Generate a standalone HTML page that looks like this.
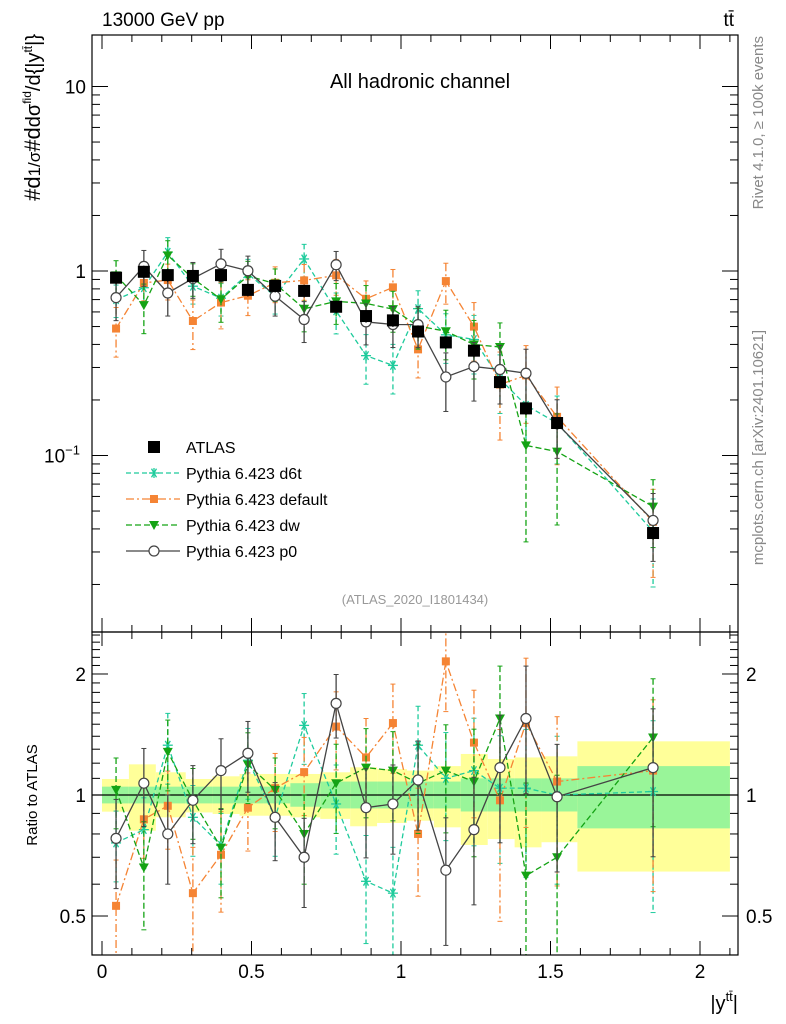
<!DOCTYPE html>
<html><head><meta charset="utf-8"><style>
html,body{margin:0;padding:0;background:#fff;overflow:hidden;width:786px;height:1024px}
svg{display:block}
svg text{font-family:"Liberation Sans",sans-serif}
</style></head><body>
<svg id="c" width="786" height="1024" viewBox="0 0 786 1024" xmlns="http://www.w3.org/2000/svg"></svg>
<script>
const xs=[0.047,0.14,0.22,0.304,0.398,0.488,0.579,0.676,0.783,0.883,0.973,1.057,1.15,1.244,1.331,1.418,1.522,1.843];
const edges=[0,0.09,0.18,0.28,0.37,0.46,0.54,0.63,0.73,0.83,0.92,1.02,1.11,1.2,1.29,1.38,1.47,1.59,2.1];
const atlas=[0.92,0.99,0.95,0.94,0.95,0.79,0.83,0.78,0.64,0.57,0.54,0.47,0.41,0.37,0.25,0.18,0.15,0.038];
const rD6t=[0.76,0.82,1.33,0.88,0.75,1.22,0.88,1.49,0.95,0.61,0.57,1.33,1.10,1.15,1.04,1.04,1.0,1.02];
const rDef=[0.53,0.87,0.94,0.57,0.71,0.93,1.04,1.14,1.48,1.24,1.51,0.80,2.15,1.35,0.97,1.51,1.08,1.15];
const rDw=[1.03,0.66,1.28,0.97,0.74,1.19,1.03,0.80,1.07,1.17,1.15,1.07,1.15,1.08,1.55,0.63,0.70,1.39];
const rP0=[0.78,1.07,0.80,0.97,1.15,1.27,0.88,0.70,1.69,0.93,0.95,1.09,0.65,0.82,1.17,1.55,0.99,1.17];
const eD6t=[0.2,0.2,0.2,0.2,0.2,0.2,0.2,0.2,0.25,0.3,0.3,0.25,0.3,0.35,0.35,0.4,0.4,0.5];
const eDef=[0.3,0.2,0.22,0.3,0.28,0.22,0.22,0.22,0.22,0.25,0.25,0.3,0.25,0.35,0.5,0.45,0.45,0.5];
const eDw=[0.2,0.3,0.2,0.2,0.25,0.2,0.2,0.25,0.25,0.25,0.25,0.25,0.3,0.35,0.35,0.7,0.6,0.4];
const eP0=[0.25,0.22,0.25,0.22,0.2,0.2,0.22,0.25,0.18,0.25,0.25,0.25,0.35,0.35,0.35,0.35,0.35,0.4];
const yelHi=[1.096,1.192,1.139,1.096,1.113,1.128,1.128,1.128,1.139,1.172,1.16,1.15,1.18,1.265,1.229,1.24,1.248,1.36];
const yelLo=[0.909,0.815,0.88,0.905,0.897,0.888,0.888,0.88,0.872,0.836,0.852,0.863,0.831,0.751,0.777,0.741,0.763,0.645];
const grnHi=[1.049,1.049,1.049,1.049,1.049,1.049,1.049,1.07,1.08,1.08,1.08,1.08,1.08,1.1,1.1,1.1,1.1,1.18];
const grnLo=[0.953,0.953,0.953,0.953,0.953,0.953,0.953,0.935,0.926,0.926,0.926,0.926,0.926,0.91,0.91,0.91,0.91,0.826];
const xTicks=[0,0.5,1,1.5,2];
const NS="http://www.w3.org/2000/svg";const svg=document.getElementById('c');
function el(t,a,p){const e=document.createElementNS(NS,t);for(const k in a)e.setAttribute(k,a[k]);(p||svg).appendChild(e);return e;}
const L=92,R=738,T=35,M=632,B=955;
const X=v=>102+v*299;
const Y=v=>271-Math.log10(v)*184.5;
const YR=v=>795-Math.log10(v)*402;
const gb=el('g',{});
for(let i=0;i<xs.length;i++){const x0=X(edges[i]),x1=X(edges[i+1]);
 el('rect',{x:x0,y:YR(yelHi[i]),width:x1-x0,height:YR(yelLo[i])-YR(yelHi[i]),fill:'#ffff99'},gb);
 el('rect',{x:x0,y:YR(grnHi[i]),width:x1-x0,height:YR(grnLo[i])-YR(grnHi[i]),fill:'#99f599'},gb);}
el('line',{x1:L,x2:R,y1:YR(1),y2:YR(1),stroke:'#000','stroke-width':1.3});
const defs=el('defs',{});
const c1=el('clipPath',{id:'cm'},defs);el('rect',{x:L,y:T,width:R-L,height:M-T},c1);
const c2=el('clipPath',{id:'cr'},defs);el('rect',{x:L,y:M,width:R-L,height:B-M},c2);
function marker(g,type,x,y,col){
 if(type==='sq')el('rect',{x:x-4,y:y-4,width:8,height:8,fill:col},g);
 else if(type==='tri')el('path',{d:`M${x-5},${y-4}L${x+5},${y-4}L${x},${y+5}Z`,fill:col},g);
 else if(type==='circ')el('circle',{cx:x,cy:y,r:5,fill:'#fff',stroke:col,'stroke-width':1.2},g);
 else if(type==='ast'){for(const a of [0,60,120]){const r=a*Math.PI/180;el('line',{x1:x-5*Math.cos(r),y1:y-5*Math.sin(r),x2:x+5*Math.cos(r),y2:y+5*Math.sin(r),stroke:col,'stroke-width':1.3},g);}el('line',{x1:x,x2:x,y1:y-5,y2:y+5,stroke:col,'stroke-width':1.3},g);}
}
const series=[
 {n:'pythia-d6t',r:rD6t,e:eD6t,c:'#1ecb9c',d:'5,3',m:'ast'},
 {n:'pythia-default',r:rDef,e:eDef,c:'#f58434',d:'8,3,2,3',m:'sq'},
 {n:'pythia-dw',r:rDw,e:eDw,c:'#14a314',d:'6,3',m:'tri'},
 {n:'pythia-p0',r:rP0,e:eP0,c:'#444',d:'',m:'circ'}];
for(const s of series){
 for(const panel of ['main','ratio']){
  const g=el('g',{'clip-path':panel==='main'?'url(#cm)':'url(#cr)'});
  
  const fy=i=>panel==='main'?Y(s.r[i]*atlas[i]):YR(s.r[i]);
  const fe=(i,f)=>panel==='main'?Y(s.r[i]*atlas[i]*f):YR(s.r[i]*f);
  let pts=xs.map((x,i)=>X(x)+','+fy(i)).join(' ');
  const pl=el('polyline',{points:pts,fill:'none',stroke:s.c,'stroke-width':1.3},g);if(s.d)pl.setAttribute('stroke-dasharray',s.d);
  xs.forEach((x,i)=>{const up=fe(i,1+s.e[i]),lo=fe(i,Math.max(0.05,1-s.e[i]));
   const l=el('line',{x1:X(x),x2:X(x),y1:up,y2:lo,stroke:s.c,'stroke-width':1.3},g);if(s.d)l.setAttribute('stroke-dasharray',s.d);
   el('line',{x1:X(x)-2.5,x2:X(x)+2.5,y1:up,y2:up,stroke:s.c},g);el('line',{x1:X(x)-2.5,x2:X(x)+2.5,y1:lo,y2:lo,stroke:s.c},g);
   marker(g,s.m,X(x),fy(i),s.c);});
 }
}
const ga=el('g',{});
xs.forEach((x,i)=>{el('line',{x1:X(x),x2:X(x),y1:Y(atlas[i]*1.08),y2:Y(atlas[i]*0.92),stroke:'#000'},ga);el('rect',{x:X(x)-6,y:Y(atlas[i])-6,width:12,height:12,fill:'#000'},ga);});
el('rect',{x:L,y:T,width:R-L,height:M-T,fill:'none',stroke:'#000','stroke-width':1.2});
el('rect',{x:L,y:M,width:R-L,height:B-M,fill:'none',stroke:'#000','stroke-width':1.2});
for(let k=0;k<=21;k++){const v=k/10,x=X(v);const big=k%5===0;const h=big?14:7;
 for(const [y0,d] of [[M,-1],[T,1],[B,-1],[M,1]])el('line',{x1:x,x2:x,y1:y0,y2:y0+d*h,stroke:'#000'});}
xTicks.forEach(v=>{const t=el('text',{x:X(v),y:978,'font-size':19,'text-anchor':'middle'});t.textContent=String(v);});
for(let e=-2;e<=1;e++)for(let m=1;m<=9;m++){const v=m*Math.pow(10,e);const y=Y(v);if(y<T||y>M)continue;const h=m===1?16:8;
 el('line',{x1:L,x2:L+h,y1:y,y2:y,stroke:'#000'});el('line',{x1:R,x2:R-h,y1:y,y2:y,stroke:'#000'});}
let t=el('text',{x:86,y:Y(10)+7,'font-size':19,'text-anchor':'end'});t.textContent='10';
t=el('text',{x:86,y:Y(1)+7,'font-size':19,'text-anchor':'end'});t.textContent='1';
t=el('text',{x:80,y:Y(0.1)+7,'font-size':19,'text-anchor':'end'});t.innerHTML='10<tspan dy="-8" font-size="13">−1</tspan>';
for(let k=4;k<=25;k++){const v=k/10;const y=YR(v);if(y<M||y>B)continue;const big=(k===5||k===10||k===20);const h=big?16:8;
 el('line',{x1:L,x2:L+h,y1:y,y2:y,stroke:'#000'});el('line',{x1:R,x2:R-h,y1:y,y2:y,stroke:'#000'});}
for(const v of [0.5,1,2]){for(const [x,a] of [[86,'end'],[746,'start']]){const tt=el('text',{x:x,y:YR(v)+7,'font-size':19,'text-anchor':a});tt.textContent=String(v);}}
function txt(s,a,name){const e=el('text',a);e.textContent=s;return e;}
txt('13000 GeV pp',{x:102,y:26,'font-size':19},'energy-label');
txt('tt̄',{x:734,y:26,'font-size':19,'text-anchor':'end'},'process-label');
txt('All hadronic channel',{x:420,y:88,'font-size':20,'text-anchor':'middle'},'plot-title');
txt('(ATLAS_2020_I1801434)',{x:415,y:604,'font-size':13,'text-anchor':'middle',fill:'#999'},'analysis-id');
txt('Rivet 4.1.0, ≥ 100k events',{x:0,y:0,'font-size':15,fill:'#888','text-anchor':'end',transform:'translate(763,36) rotate(-90)'},'rivet-label');
txt('mcplots.cern.ch [arXiv:2401.10621]',{x:0,y:0,'font-size':15,fill:'#888','text-anchor':'end',transform:'translate(763,330) rotate(-90)'},'mcplots-label');
txt('Ratio to ATLAS',{x:0,y:0,'font-size':15,'text-anchor':'middle',transform:'translate(37,795) rotate(-90)'},'ratio-y-title');
const xl=el('text',{x:738,y:1010,'font-size':20,'text-anchor':'end'});xl.innerHTML='|y<tspan dy="-9" font-size="13">tt̄</tspan><tspan dy="9">|</tspan>';
const yl=el('text',{x:0,y:0,'font-size':22,'text-anchor':'end',transform:'translate(40,34) rotate(-90)'});yl.innerHTML='#d<tspan font-size="17">1/σ</tspan>#d<tspan font-size="20">dσ</tspan><tspan dy="-9" font-size="12">fid</tspan><tspan dy="9" font-size="20">/d{|y</tspan><tspan dy="-8" font-size="12">tt̄</tspan><tspan dy="8" font-size="20">|}</tspan>';
const leg=[['ATLAS','#000','','atlas'],['Pythia 6.423 d6t','#1ecb9c','5,3','ast'],['Pythia 6.423 default','#f58434','8,3,2,3','sq'],['Pythia 6.423 dw','#14a314','6,3','tri'],['Pythia 6.423 p0','#444','','circ']];
leg.forEach((l,i)=>{const y=447+i*26;const g=el('g',{});
 if(l[3]==='atlas'){el('rect',{x:148,y:y-6,width:12,height:12,fill:'#000'},g);}
 else{const ln=el('line',{x1:126,x2:180,y1:y,y2:y,stroke:l[1],'stroke-width':1.3},g);if(l[2])ln.setAttribute('stroke-dasharray',l[2]);marker(g,l[3],154,y,l[1]);}
 const t=el('text',{x:186,y:y+6,'font-size':16},g);t.textContent=l[0];});
</script>
</body></html>
